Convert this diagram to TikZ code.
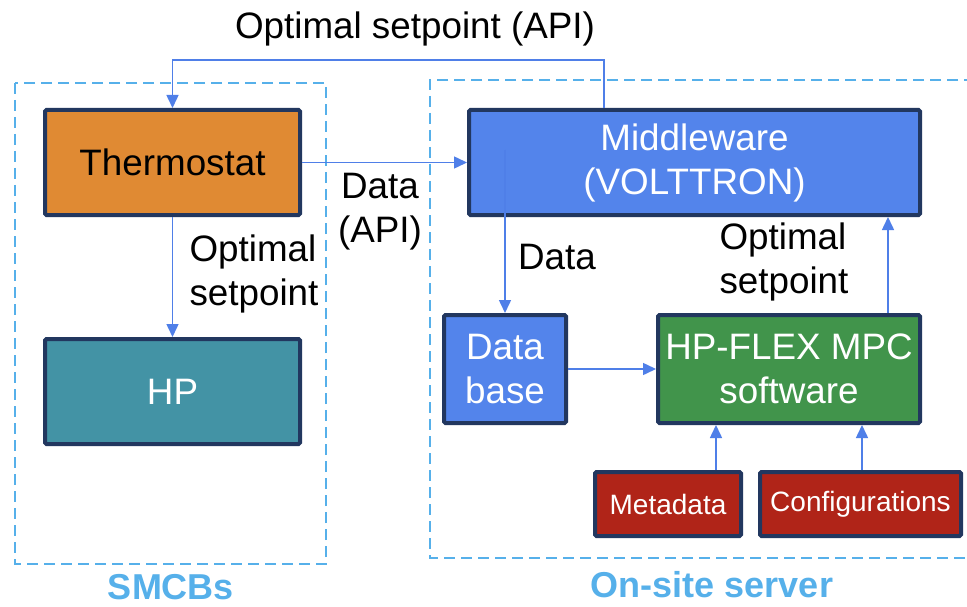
\documentclass[tikz,border=0pt]{standalone}
\usepackage{fontspec}
\setmainfont{Liberation Sans}
\usetikzlibrary{arrows.meta}
\definecolor{navy}{HTML}{22375F}
\definecolor{thermoc}{HTML}{E08A33}
\definecolor{hpc}{HTML}{4393A5}
\definecolor{mwc}{HTML}{5384EB}
\definecolor{mpcc}{HTML}{41944B}
\definecolor{redc}{HTML}{B02418}
\definecolor{dashc}{HTML}{56B0EA}
\definecolor{arrc}{HTML}{4F7FE8}
\tikzset{
  box/.style={draw=navy, line width=4pt, rounded corners=1.5pt, inner sep=0pt, align=center, text=white, font=\fontsize{36.8}{44}\selectfont},
  smallbox/.style={box, font=\fontsize{28}{34}\selectfont},
  arr/.style={draw=arrc, line width=1.5pt, -{Triangle[length=13pt,width=12pt]}},
  group/.style={draw=dashc, line width=2.5pt, dash pattern=on 11pt off 6pt},
  lbl/.style={inner sep=0pt, align=center, font=\fontsize{36.8}{44}\selectfont},
  grplbl/.style={inner sep=0pt, text=dashc, font=\bfseries\fontsize{36}{40}\selectfont}
}
\begin{document}
\begin{tikzpicture}[x=1pt,y=-1pt]
\useasboundingbox[fill=white] (0,0) rectangle (967,607);
% groups
\draw[group] (15,83) rectangle (326,564);
\draw[group] (975,80) -- (430,80) -- (430,558) -- (975,558);
\node[grplbl] (smcbs) at (171,587) {SMCBs};
\node[grplbl] (onsite) at (712,585) {On-site server};
% boxes
\node[box, fill=thermoc, text=black, minimum width=255pt, minimum height=105pt] (thermo) at (172.5,162.5) {Thermostat};
\node[box, fill=hpc, minimum width=255pt, minimum height=105pt] (hp) at (172.5,391.5) {HP};
\node[box, fill=mwc, minimum width=451pt, minimum height=105pt] (mw) at (694.5,162.5) {Middleware\\(VOLTTRON)};
\node[box, fill=mwc, minimum width=122pt, minimum height=108pt] (db) at (505,369) {Data\\base};
\node[box, fill=mpcc, minimum width=262pt, minimum height=108pt] (mpc) at (789,369) {HP-FLEX MPC\\software};
\node[smallbox, fill=redc, minimum width=146pt, minimum height=64pt] (meta) at (668,504) {Metadata};
\node[smallbox, fill=redc, minimum width=201pt, minimum height=64pt] (conf) at (860.5,504) {Configurations};
% labels
\node[lbl] (ltop) at (415,29) {Optimal setpoint (API)};
\node[lbl] (ldata) at (380,212) {Data\\(API)};
\node[lbl, align=left] (lopt1) at (254,274) {Optimal\\setpoint};
\node[lbl] (ldb) at (557,257) {Data};
\node[lbl, align=left] (lopt2) at (784,262) {Optimal\\setpoint};
% connectors
\coordinate (mwd) at (505,150);
\draw[arr] ([xshift=-90.5pt]mw.north) -- ++(0,-48) -| (thermo.north);
\draw[arr] (thermo.east) -- (mw.west);
\draw[arr] (thermo.south) -- (hp.north);
\draw[arr] (mwd) -- (db.north);
\draw[arr] (db.east) -- (mpc.west);
\draw[arr] ([xshift=99pt]mpc.north) -- ([xshift=99pt]mpc.north |- mw.south);
\draw[arr] ([xshift=48pt]meta.north) -- ([xshift=48pt]meta.north |- mpc.south);
\draw[arr] ([xshift=1.5pt]conf.north) -- ([xshift=1.5pt]conf.north |- mpc.south);
\end{tikzpicture}
\end{document}
